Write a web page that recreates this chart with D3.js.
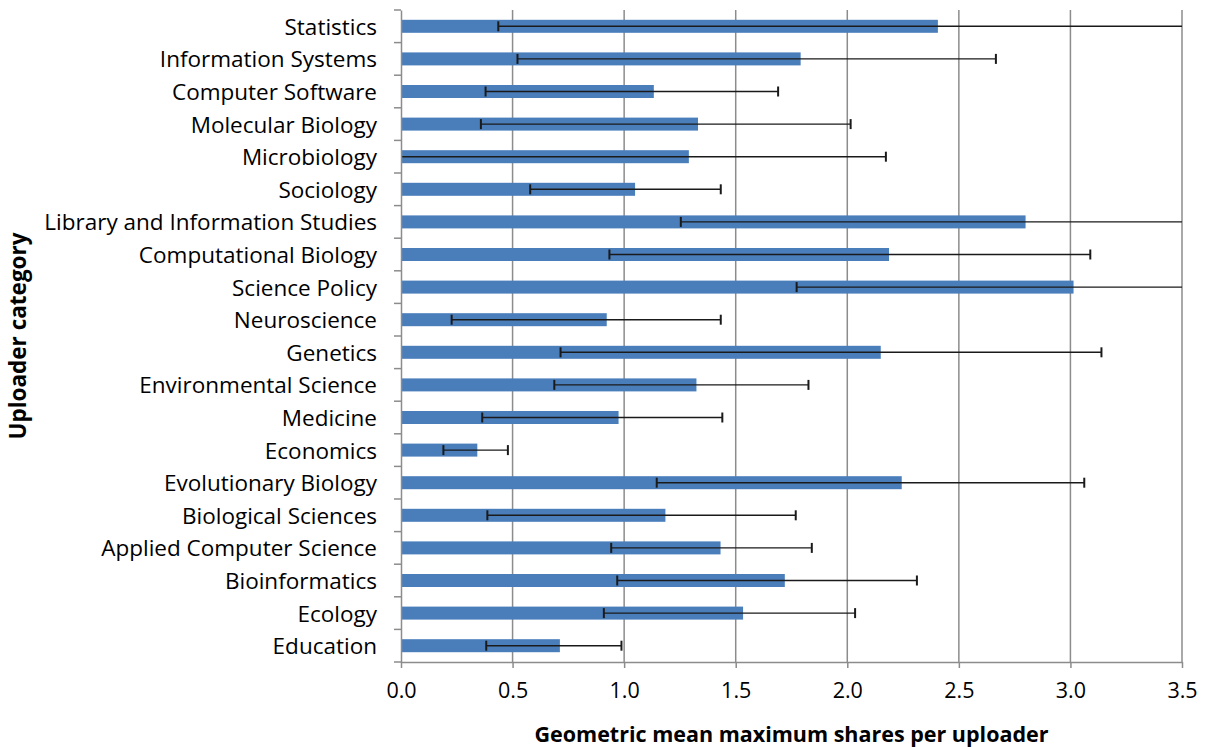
<!DOCTYPE html>
<html>
<head>
<meta charset="utf-8">
<script src="https://cdn.jsdelivr.net/npm/d3@7"></script>
<style>
  html, body { margin: 0; padding: 0; background: #fff; }
  svg { display: block; }
</style>
</head>
<body>
<svg id="chart" width="1210" height="747"></svg>
<script>
// Uploader categories, top to bottom
const categories = [
  "Statistics", "Information Systems", "Computer Software", "Molecular Biology",
  "Microbiology", "Sociology", "Library and Information Studies", "Computational Biology",
  "Science Policy", "Neuroscience", "Genetics", "Environmental Science", "Medicine",
  "Economics", "Evolutionary Biology", "Biological Sciences", "Applied Computer Science",
  "Bioinformatics", "Ecology", "Education"
];
// Geometric mean of maximum shares per uploader
const means = [
  2.406, 1.791, 1.133, 1.331, 1.290, 1.049, 2.799, 2.187, 3.014, 0.922,
  2.150, 1.324, 0.975, 0.342, 2.244, 1.185, 1.432, 1.720, 1.533, 0.712
];
// Lower and upper ends of the error bars
const lower = [
  0.436, 0.522, 0.379, 0.358, -0.10, 0.579, 1.254, 0.934, 1.773, 0.227,
  0.715, 0.687, 0.364, 0.190, 1.146, 0.387, 0.942, 0.969, 0.909, 0.382
];
const upper = [
  4.376, 2.666, 1.690, 2.015, 2.173, 1.433, 4.344, 3.089, 4.255, 1.433,
  3.139, 1.826, 1.440, 0.479, 3.062, 1.769, 1.841, 2.312, 2.035, 0.988
];
const xTicks = [0, 0.5, 1.0, 1.5, 2.0, 2.5, 3.0, 3.5];

const margin = { top: 10, right: 28, bottom: 85, left: 401 };
const width = 1210, height = 747;
const svg = d3.select("#chart");
const innerW = width - margin.left - margin.right;
const innerH = height - margin.top - margin.bottom;
const g = svg.append("g").attr("transform", `translate(${margin.left},${margin.top})`);

const x = d3.scaleLinear().domain([0, 3.5]).range([0, innerW]);
const band = d3.scaleBand().domain(categories).range([0, innerH]);

const font = "'Open Sans', 'Liberation Sans', sans-serif";
const gridColor = "#8c8c8c";

// vertical gridlines
g.append("g").selectAll("line").data(xTicks.slice(1)).join("line")
  .attr("x1", d => x(d)).attr("x2", d => x(d))
  .attr("y1", 0).attr("y2", innerH)
  .attr("stroke", gridColor).attr("stroke-width", 1.5);

// bars
const data = categories.map((c, i) => ({ c, m: means[i], lo: lower[i], hi: upper[i] }));
g.append("g").selectAll("rect").data(data).join("rect")
  .attr("x", 0)
  .attr("y", d => band(d.c) + band.bandwidth() / 2 - 6.5)
  .attr("width", d => x(d.m))
  .attr("height", 13)
  .attr("fill", "#4a7ebb");

// error bars, clipped to the axis range; caps only where the end is inside it
const eb = g.append("g").attr("stroke", "#1a1a1a").attr("stroke-width", 1.4);
data.forEach(d => {
  const cy = band(d.c) + band.bandwidth() / 2;
  const lo = Math.max(0, d.lo), hi = Math.min(3.5, d.hi);
  eb.append("line").attr("x1", x(lo)).attr("x2", x(hi)).attr("y1", cy).attr("y2", cy);
  if (d.lo >= 0) eb.append("line").attr("x1", x(d.lo)).attr("x2", x(d.lo)).attr("y1", cy - 5).attr("y2", cy + 5).attr("stroke-width", 2);
  if (d.hi <= 3.5) eb.append("line").attr("x1", x(d.hi)).attr("x2", x(d.hi)).attr("y1", cy - 5).attr("y2", cy + 5).attr("stroke-width", 2);
});

// x axis
const xAxis = g.append("g").attr("transform", `translate(0,${innerH})`)
  .call(d3.axisBottom(x).tickValues(xTicks).tickFormat(d3.format(".1f")).tickSizeInner(6).tickSizeOuter(0));
xAxis.select(".domain").attr("stroke", gridColor).attr("stroke-width", 1.5);
xAxis.selectAll(".tick line").attr("stroke", gridColor).attr("stroke-width", 1.5);
xAxis.selectAll(".tick text").attr("font-family", font).attr("font-size", 21.5)
  .attr("fill", "#000").attr("y", 21).attr("dy", "0.71em");

// y axis
const yAxis = g.append("g").call(d3.axisLeft(band).tickSize(0).tickPadding(24));
yAxis.select(".domain").attr("stroke", gridColor).attr("stroke-width", 1.5);
yAxis.selectAll(".tick text").attr("font-family", font).attr("font-size", 22.5)
  .attr("fill", "#000").attr("dy", "0.38em");
// tick marks between categories
g.append("g").selectAll("line").data(d3.range(categories.length + 1)).join("line")
  .attr("x1", -7).attr("x2", 0)
  .attr("y1", i => i * band.step()).attr("y2", i => i * band.step())
  .attr("stroke", gridColor).attr("stroke-width", 1.5);

// axis titles
svg.append("text")
  .attr("x", margin.left + innerW / 2).attr("y", 742)
  .attr("text-anchor", "middle").attr("font-family", font).attr("font-weight", "bold")
  .attr("font-size", 21.5).text("Geometric mean maximum shares per uploader");
svg.append("text")
  .attr("transform", `translate(26,${margin.top + innerH / 2}) rotate(-90)`)
  .attr("text-anchor", "middle").attr("font-family", font).attr("font-weight", "bold")
  .attr("font-size", 22.5).text("Uploader category");
</script>
</body>
</html>
